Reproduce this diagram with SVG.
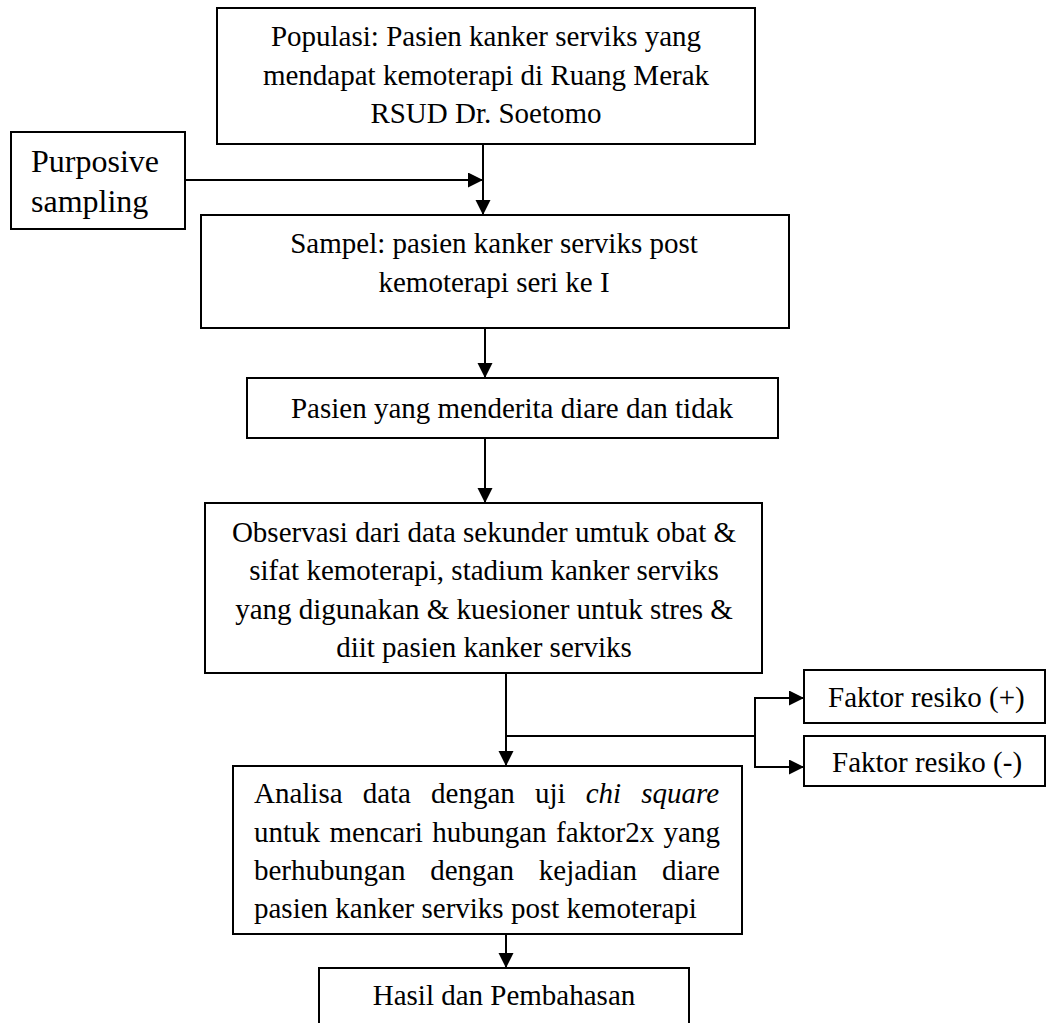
<svg xmlns="http://www.w3.org/2000/svg" width="1047" height="1023" viewBox="0 0 1047 1023">
<defs>
<style>
.box{fill:#fff;stroke:#000;stroke-width:2}
.t{font-family:"Liberation Serif","Times New Roman",serif;font-size:29px;fill:#000}
.c{text-anchor:middle}
.big{font-size:32px}
.it{font-style:italic}
.ln{fill:none;stroke:#000;stroke-width:2}
</style>
<marker id="ah" markerUnits="userSpaceOnUse" markerWidth="16" markerHeight="16" refX="15" refY="7.5" orient="auto">
<path d="M0,0 L15,7.5 L0,15 z" fill="#000"/>
</marker>
</defs>
<rect width="1047" height="1023" fill="#fff"/>
<g id="connectors">
<line class="ln" x1="483" y1="144" x2="483" y2="215" marker-end="url(#ah)"/>
<line class="ln" x1="185" y1="180" x2="483" y2="180" marker-end="url(#ah)"/>
<line class="ln" x1="485" y1="328" x2="485" y2="378" marker-end="url(#ah)"/>
<line class="ln" x1="485" y1="438" x2="485" y2="503" marker-end="url(#ah)"/>
<line class="ln" x1="506" y1="673" x2="506" y2="766" marker-end="url(#ah)"/>
<line class="ln" x1="506" y1="736" x2="755" y2="736"/>
<line class="ln" x1="755" y1="697" x2="755" y2="768"/>
<line class="ln" x1="754" y1="698" x2="804" y2="698" marker-end="url(#ah)"/>
<line class="ln" x1="754" y1="767" x2="804" y2="767" marker-end="url(#ah)"/>
<line class="ln" x1="506" y1="934" x2="506" y2="968" marker-end="url(#ah)"/>
</g>
<g id="populasi">
<rect class="box" x="217" y="8" width="538" height="136"/>
<text class="t c" x="486" y="46">Populasi: Pasien kanker serviks yang</text>
<text class="t c" x="486" y="85">mendapat kemoterapi di Ruang Merak</text>
<text class="t c" x="486" y="123">RSUD Dr. Soetomo</text>
</g>
<g id="purposive">
<rect class="box" x="11" y="132" width="174" height="97"/>
<text class="t big" x="31" y="172">Purposive</text>
<text class="t big" x="31" y="212">sampling</text>
</g>
<g id="sampel">
<rect class="box" x="201" y="215" width="588" height="113"/>
<text class="t c" x="494" y="253">Sampel: pasien kanker serviks post</text>
<text class="t c" x="494" y="292">kemoterapi seri ke I</text>
</g>
<g id="pasien">
<rect class="box" x="247" y="378" width="531" height="60"/>
<text class="t c" x="512" y="418">Pasien yang menderita diare dan tidak</text>
</g>
<g id="observasi">
<rect class="box" x="205" y="503" width="557" height="170"/>
<text class="t c" x="484" y="542">Observasi dari data sekunder umtuk obat &amp;</text>
<text class="t c" x="484" y="580">sifat kemoterapi, stadium kanker serviks</text>
<text class="t c" x="484" y="619">yang digunakan &amp; kuesioner untuk stres &amp;</text>
<text class="t c" x="484" y="657">diit pasien kanker serviks</text>
</g>
<g id="faktor-plus">
<rect class="box" x="804" y="670" width="241" height="53"/>
<text class="t" x="828" y="707">Faktor resiko (+)</text>
</g>
<g id="faktor-minus">
<rect class="box" x="804" y="736" width="241" height="50"/>
<text class="t" x="832" y="772">Faktor resiko (-)</text>
</g>
<g id="analisa">
<rect class="box" x="233" y="766" width="509" height="168"/>
<text class="t" y="803"><tspan x="254">Analisa</tspan><tspan x="362.7">data</tspan><tspan x="431.1">dengan</tspan><tspan x="535">uji</tspan><tspan class="it" x="585.7">chi</tspan><tspan class="it" x="641.2">square</tspan></text>
<text class="t" y="842"><tspan x="254">untuk</tspan><tspan x="329.5">mencari</tspan><tspan x="432.2">hubungan</tspan><tspan x="556">faktor2x</tspan><tspan x="663.6">yang</tspan></text>
<text class="t" y="880"><tspan x="254">berhubungan</tspan><tspan x="430.2">dengan</tspan><tspan x="538.8">kejadian</tspan><tspan x="661.9">diare</tspan></text>
<text class="t" x="254" y="918">pasien kanker serviks post kemoterapi</text>
</g>
<g id="hasil">
<rect class="box" x="319" y="968" width="370" height="70"/>
<text class="t c" x="504" y="1005">Hasil dan Pembahasan</text>
</g>
</svg>
